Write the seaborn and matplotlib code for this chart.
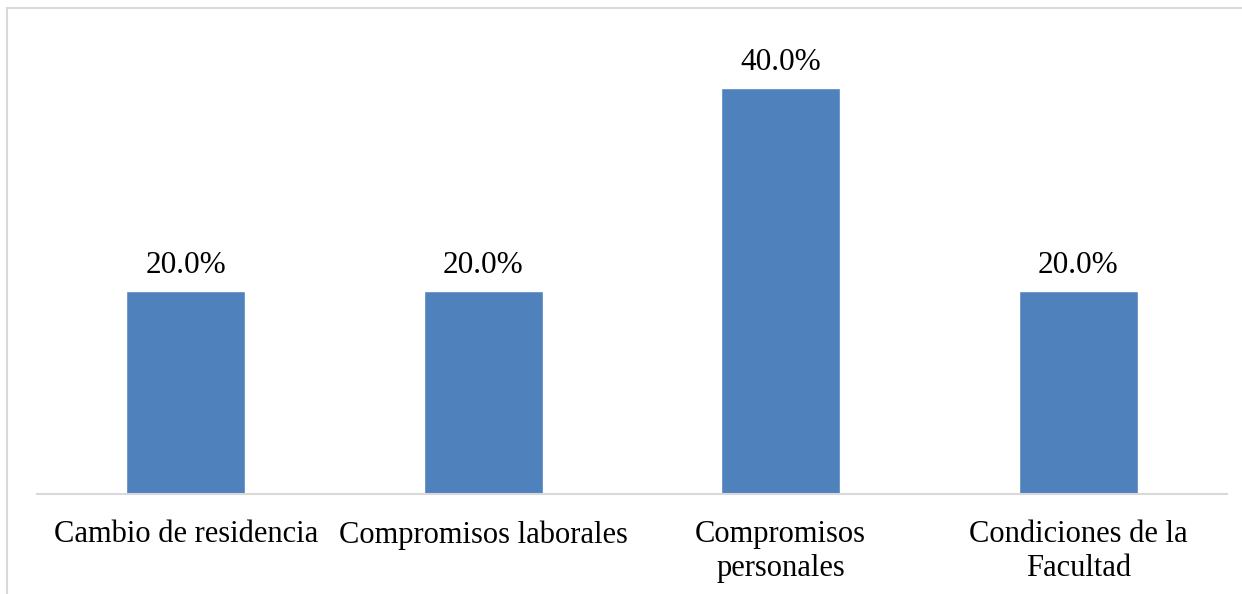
import matplotlib
matplotlib.use('Agg')
import matplotlib.pyplot as plt
import seaborn as sns
import pandas as pd
from matplotlib.lines import Line2D

# Datos del grafico
categorias = ['Cambio de residencia', 'Compromisos laborales',
              'Compromisos\npersonales', 'Condiciones de la\nFacultad']
porcentajes = [20.0, 20.0, 40.0, 20.0]

df = pd.DataFrame({'categoria': categorias, 'porcentaje': porcentajes})

sns.set_style('white')
plt.rcParams['font.family'] = ['Liberation Serif', 'DejaVu Serif']

fig = plt.figure(figsize=(12.42, 5.94), dpi=100)
ax = fig.add_axes([0.0298, 0.1684, 0.9581, 0.769])

sns.barplot(data=df, x='categoria', y='porcentaje', color='#4F81BD',
            saturation=1, width=0.4, ax=ax)

ax.bar_label(ax.containers[0], labels=[f'{v:.1f}%' for v in porcentajes],
             padding=8, fontsize=22.5, color='#000000')

ax.set_xlim(-0.5, 3.5)
ax.set_ylim(0, 45)
ax.set_xlabel('')
ax.set_ylabel('')
ax.set_yticks([])
ax.tick_params(axis='x', length=0, pad=19, labelsize=22, colors='#000000')
for lbl in ax.get_xticklabels():
    lbl.set_linespacing(1.2)

for s in ['top', 'right', 'left']:
    ax.spines[s].set_visible(False)
ax.spines['bottom'].set_color('#D9D9D9')
ax.spines['bottom'].set_linewidth(1.5)

# Borde del area del grafico (izquierda y arriba)
fig.add_artist(Line2D([7 / 1242, 7 / 1242], [0, 1 - 8 / 594], transform=fig.transFigure,
                      color='#D9D9D9', linewidth=1.5))
fig.add_artist(Line2D([7 / 1242, 1], [1 - 8 / 594, 1 - 8 / 594], transform=fig.transFigure,
                      color='#D9D9D9', linewidth=1.5))

fig.savefig('out.png', dpi=100, facecolor='white')
